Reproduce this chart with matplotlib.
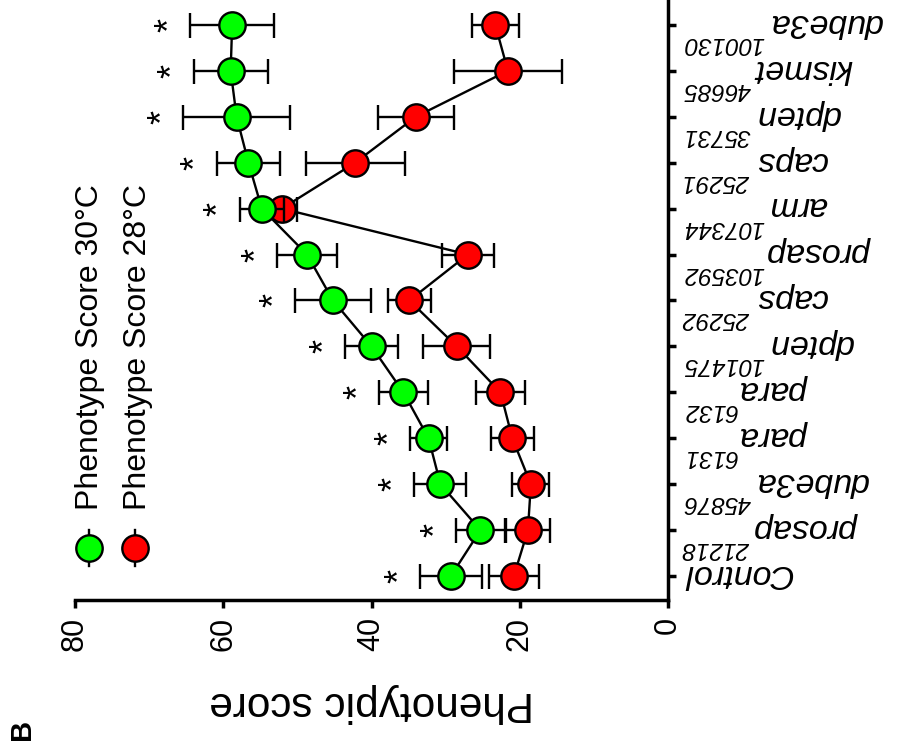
import matplotlib
matplotlib.use("Agg")
import matplotlib.pyplot as plt
import matplotlib.transforms as mtransforms
import numpy as np

plt.rcParams['font.family'] = ['Liberation Sans', 'DejaVu Sans']

# ---- data ----
genes = ['Control', 'prosap', 'dube3a', 'para', 'para', 'dpten', 'caps',
         'prosap', 'arm', 'caps', 'dpten', 'kismet', 'dube3a']
lines = ['', '21218', '45876', '6131', '6132', '101475', '25292',
         '103592', '107344', '25291', '35731', '46685', '100130']
score_30 = [29.3, 25.3, 30.7, 32.3, 35.7, 40.0, 45.2, 48.7, 54.8, 56.6, 58.2, 59.0, 58.8]
err_30 = [4.2, 3.3, 3.5, 2.5, 3.3, 3.6, 5.1, 4.1, 3.0, 4.3, 7.2, 5.0, 5.7]
score_28 = [20.8, 18.9, 18.5, 21.0, 22.6, 28.5, 34.9, 27.0, 52.1, 42.2, 34.0, 21.6, 23.3]
err_28 = [3.4, 3.0, 2.5, 2.9, 3.3, 4.5, 2.9, 3.5, 2.0, 6.7, 5.1, 7.3, 3.2]
significant = [True] * 13
value_ticks = [0, 20, 40, 60, 80]
series_names = ['Phenotype Score 30°C', 'Phenotype Score 28°C']
axis_label = 'Phenotypic score'
panel = 'B'

W, H = 897, 755
fig = plt.figure(figsize=(W / 100, H / 100), dpi=100)
ax = fig.add_axes([75 / W, 155 / H, 593 / W, 600 / H])

pos = np.arange(len(genes))

# 28 C series (red), drawn first
ax.errorbar(score_28, pos, xerr=err_28, fmt='none', ecolor='black',
            elinewidth=1.7, capsize=9, capthick=1.7, zorder=2)
ax.plot(score_28, pos, '-o', color='black', lw=1.7, mfc='#ff0000', mec='black',
        ms=19, mew=1.7, zorder=3)
# 30 C series (green)
ax.errorbar(score_30, pos, xerr=err_30, fmt='none', ecolor='black',
            elinewidth=1.7, capsize=9, capthick=1.7, zorder=4)
ax.plot(score_30, pos, '-o', color='black', lw=1.7, mfc='#00ff00', mec='black',
        ms=19, mew=1.7, zorder=5)

# significance stars
for p, v, e, s in zip(pos, score_30, err_30, significant):
    if s:
        ax.text(v + e + 2.6, p, '*', rotation=90, ha='center', va='center',
                fontsize=26, zorder=6)

ax.set_xlim(80, 0)
ax.set_ylim(-0.52, 12.54)

for s in ['top', 'left']:
    ax.spines[s].set_visible(False)
for s in ['bottom', 'right']:
    ax.spines[s].set_linewidth(2.5)

ax.set_xticks(value_ticks)
ax.set_xticklabels([str(t) for t in value_ticks], rotation=90, fontsize=22)
ax.tick_params(axis='x', direction='out', length=6, width=2.5, pad=6)

ax.yaxis.tick_right()
ax.set_yticks(pos)
ax.set_yticklabels([])
ax.tick_params(axis='y', direction='out', length=6, width=2.5)

# category labels (upside-down, with superscript line numbers)
blend = mtransforms.blended_transform_factory(ax.transAxes, ax.transData)
x_lab = 1 + 15 / 593
num_tr = mtransforms.offset_copy(blend, fig=fig, x=0, y=-12, units='dots')
name_tr = mtransforms.offset_copy(blend, fig=fig, x=0, y=11, units='dots')
for p, g, l in zip(pos, genes, lines):
    if l:
        t = ax.text(x_lab, p, l, transform=num_tr, rotation=180,
                    rotation_mode='anchor', ha='right', va='baseline',
                    fontsize=17.5, style='italic', clip_on=False)
        ax.annotate(g, xy=(1.0, p), xycoords=(t, 'data'),
                    xytext=(3, 8), textcoords='offset points',
                    rotation=180, rotation_mode='anchor', ha='right',
                    va='baseline', fontsize=24.5, style='italic',
                    annotation_clip=False)
    else:
        ax.text(x_lab, p, g, transform=name_tr, rotation=180,
                rotation_mode='anchor', ha='right', va='baseline',
                fontsize=24.5, style='italic', clip_on=False)

ax.set_xlabel(axis_label, rotation=180, fontsize=30.5, labelpad=23)

# legend (drawn rotated, by hand)
for xf, col, name, tx in [(0.0236, '#00ff00', series_names[0], 0.0245),
                          (0.101, '#ff0000', series_names[1], 0.106)]:
    ax.plot([xf, xf], [0.0867 - 0.03, 0.0867 + 0.03], color='black', lw=1.7,
            transform=ax.transAxes, clip_on=False)
    ax.plot([xf], [0.0867], 'o', mfc=col, mec='black', ms=19, mew=1.7,
            transform=ax.transAxes, clip_on=False)
    ax.text(tx, 0.15, name, rotation=90, ha='center', va='bottom', fontsize=23,
            transform=ax.transAxes)

fig.text(22 / W, 1 - 729 / H, panel, rotation=90, fontsize=21, fontweight='bold',
         ha='center', va='center')

fig.savefig('out.png', dpi=100)
